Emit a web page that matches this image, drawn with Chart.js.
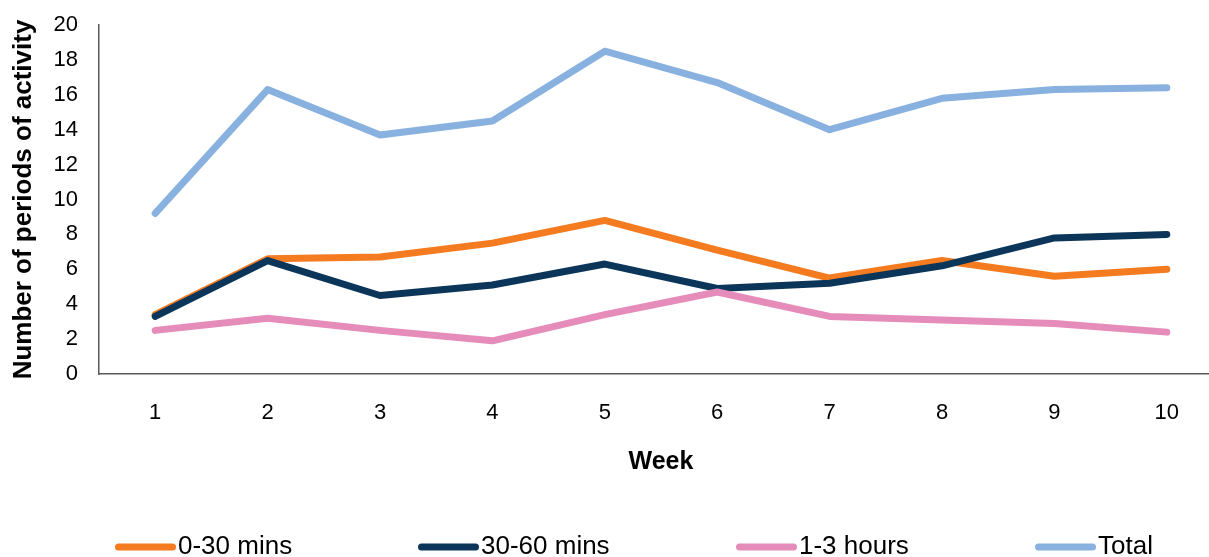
<!DOCTYPE html>
<html>
<head>
<meta charset="utf-8">
<title>Number of periods of activity by week</title>
<script src="https://cdn.jsdelivr.net/npm/chart.js@4/dist/chart.umd.min.js"></script>
<style>
  html, body { margin: 0; padding: 0; background: #ffffff; overflow: hidden; }
  #wrap { position: absolute; left: 0; top: 0; width: 1240px; height: 557px; }
</style>
</head>
<body>
<div id="wrap"><canvas id="chart" width="1240" height="557"></canvas></div>
<script>
// Weeks on the x axis
const weeks = ['1', '2', '3', '4', '5', '6', '7', '8', '9', '10'];

// Periods of activity per week, by session length
const mins0to30  = [3.4, 6.6, 6.7, 7.5, 8.8, 7.1, 5.5, 6.5, 5.6, 6.0];
const mins30to60 = [3.3, 6.5, 4.5, 5.1, 6.3, 4.9, 5.2, 6.2, 7.8, 8.0];
const hours1to3  = [2.5, 3.2, 2.5, 1.9, 3.4, 4.7, 3.3, 3.1, 2.9, 2.4];
const totals     = [9.2, 16.3, 13.7, 14.5, 18.5, 16.7, 14.0, 15.8, 16.3, 16.4];

const seriesNames = ['0-30 mins', '30-60 mins', '1-3 hours', 'Total'];
const yTicks = [0, 2, 4, 6, 8, 10, 12, 14, 16, 18, 20];

const colours = ['#F47B20', '#0B3559', '#E68CBA', '#88B1E0'];
const FONT = '"Liberation Sans", Arial, Helvetica, sans-serif';

const seriesValues = [mins0to30, mins30to60, hours1to3, totals];

const datasets = seriesValues.map((vals, i) => ({
  label: seriesNames[i],
  data: vals,
  borderColor: colours[i],
  backgroundColor: colours[i],
  borderWidth: 7,
  borderCapStyle: 'round',
  borderJoinStyle: 'round',
  pointRadius: 0,
  pointHoverRadius: 0,
  tension: 0,
  fill: false,
  order: -i          // later series are painted on top
}));

// Legend row along the bottom: a short rounded line followed by the series name
const bottomLegend = {
  id: 'bottomLegend',
  afterDraw(chart) {
    const ctx = chart.ctx;
    const starts = [115, 418, 736, 1035];
    const y = 547;
    ctx.save();
    chart.data.datasets.forEach((ds, i) => {
      const x0 = starts[i];
      ctx.strokeStyle = ds.borderColor;
      ctx.lineWidth = 7;
      ctx.lineCap = 'round';
      ctx.beginPath();
      ctx.moveTo(x0 + 3.5, y);
      ctx.lineTo(x0 + 57.5, y);
      ctx.stroke();
      ctx.fillStyle = '#000000';
      ctx.font = '26px ' + FONT;
      ctx.textAlign = 'left';
      ctx.textBaseline = 'middle';
      ctx.fillText(ds.label, x0 + 63, y);
    });
    ctx.restore();
  }
};

new Chart(document.getElementById('chart'), {
  type: 'line',
  data: { labels: weeks, datasets },
  options: {
    responsive: false,
    animation: false,
    events: [],
    layout: { padding: { top: 25, right: 17, bottom: 0, left: 0 } },
    plugins: {
      legend: { display: false },
      tooltip: { enabled: false },
      title: { display: false }
    },
    scales: {
      x: {
        type: 'category',
        offset: true,
        grid: { display: false, drawTicks: false },
        border: { display: true, color: '#595959', width: 1.5 },
        ticks: {
          color: '#000000',
          font: { family: FONT, size: 22 },
          padding: 26,
          maxRotation: 0,
          autoSkip: false
        },
        title: {
          display: true,
          text: 'Week',
          color: '#000000',
          font: { family: FONT, size: 25, weight: 'bold' },
          padding: { top: 0, bottom: 80 }
        },
        afterFit(scale) { scale.height = 183; }
      },
      y: {
        min: 0,
        max: 20,
        afterBuildTicks(scale) { scale.ticks = yTicks.map(v => ({ value: v })); },
        // invisible tick marks keep the labels clear of the axis line
        grid: {
          display: true,
          drawOnChartArea: false,
          drawTicks: true,
          tickLength: 21,
          tickColor: 'rgba(0,0,0,0)'
        },
        border: { display: true, color: '#595959', width: 1.5 },
        ticks: {
          color: '#000000',
          font: { family: FONT, size: 22 },
          padding: 0
        },
        title: {
          display: true,
          text: 'Number of periods of activity',
          color: '#000000',
          font: { family: FONT, size: 26, weight: 'bold' },
          padding: { top: 8, bottom: 0 }
        },
        afterFit(scale) { scale.width = 99; }
      }
    }
  },
  plugins: [bottomLegend]
});
</script>
</body>
</html>
